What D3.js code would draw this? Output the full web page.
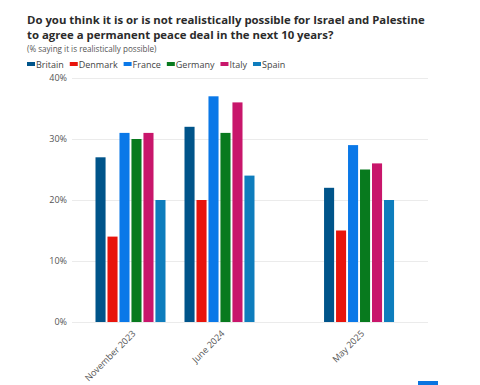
<!DOCTYPE html>
<html>
<head>
<meta charset="utf-8">
<title>Peace deal possible</title>
<script src="https://cdn.jsdelivr.net/npm/d3@7"></script>
<style>
body { margin: 0; background: #fff; font-family: "Open Sans", sans-serif; }
.title { font-size: 14px; font-weight: bold; fill: #2b2b2b; }
.sub { font-size: 8.1px; fill: #555; }
.leg { font-size: 9px; fill: #444; }
.axis text { font-size: 9px; fill: #555; font-family: "Open Sans", sans-serif; }
.axis path, .axis line { display: none; }
.grid line { stroke: #ebebeb; stroke-width: 1; }
</style>
</head>
<body>
<svg width="480" height="385"></svg>
<script>
var countries = ["Britain", "Denmark", "France", "Germany", "Italy", "Spain"];
var colours = ["#00548a", "#e8140c", "#0a78e8", "#087a1e", "#c8166b", "#0e7dbd"];
var waves = ["2023-11-01", "2024-06-01", "2025-05-01"];
var waveLabels = ["November 2023", "June 2024", "May 2025"];
var britain = [27, 32, 22];
var denmark = [14, 20, 15];
var france  = [31, 37, 29];
var germany = [30, 31, 25];
var italy   = [31, 36, 26];
var spain   = [20, 24, 20];
var yTicks = [0, 10, 20, 30, 40];

var series = [britain, denmark, france, germany, italy, spain];
var parseDate = d3.timeParse("%Y-%m-%d");
var svg = d3.select("svg");

// title block - size first line to the reference width (~398px)
var t1 = svg.append("text").attr("class", "title").attr("x", 27).attr("y", 24)
  .text("Do you think it is or is not realistically possible for Israel and Palestine");
var fs = 14 * 398 / t1.node().getComputedTextLength();
t1.style("font-size", fs + "px");
svg.append("text").attr("class", "title").attr("x", 27).attr("y", 39).style("font-size", fs + "px")
  .text("to agree a permanent peace deal in the next 10 years?");
svg.append("text").attr("class", "sub").attr("x", 27).attr("y", 52)
  .text("(% saying it is realistically possible)");

// legend
var lx = 27;
countries.forEach(function(c, i) {
  svg.append("rect").attr("x", lx).attr("y", 62).attr("width", 8).attr("height", 4).attr("fill", colours[i]);
  var t = svg.append("text").attr("class", "leg").attr("x", lx + 9).attr("y", 67.5).text(c);
  lx += 9 + t.node().getComputedTextLength() + 6;
});

var x = d3.scaleTime()
  .domain([parseDate("2023-06-14"), parseDate("2025-10-13")])
  .range([72, 428]);
var y = d3.scaleLinear().domain([0, 40]).range([322, 78]);
var inner = d3.scaleBand().domain(countries).range([-35, 35]).paddingInner(0.16);

svg.append("g").attr("class", "grid").selectAll("line").data(yTicks).enter().append("line")
  .attr("x1", 72).attr("x2", 428)
  .attr("y1", function(d) { return y(d) + 0.5; }).attr("y2", function(d) { return y(d) + 0.5; });

svg.append("g").attr("class", "axis").attr("transform", "translate(67,0)")
  .call(d3.axisLeft(y).tickValues(yTicks).tickSize(0).tickPadding(0).tickFormat(function(d) { return d + "%"; }));

// bars
var groups = svg.selectAll(".wave").data(waves).enter().append("g")
  .attr("class", "wave")
  .attr("transform", function(d) { return "translate(" + x(parseDate(d)) + ",0)"; });
groups.each(function(d, wi) {
  d3.select(this).selectAll("rect").data(countries).enter().append("rect")
    .attr("x", function(c) { return inner(c); })
    .attr("width", inner.bandwidth())
    .attr("y", function(c, ci) { return y(series[ci][wi]); })
    .attr("height", function(c, ci) { return y(0) - y(series[ci][wi]); })
    .attr("fill", function(c, ci) { return colours[ci]; });
});

// x labels
var xa = svg.append("g").attr("class", "axis").attr("transform", "translate(0,322)")
  .call(d3.axisBottom(x).tickValues(waves.map(parseDate)).tickSize(0).tickPadding(0)
    .tickFormat(function(d, i) { return waveLabels[i]; }));
xa.selectAll("text").attr("text-anchor", "end").attr("y", 0).attr("dy", "0.35em")
  .attr("transform", "translate(3,10) rotate(-45)");

svg.append("rect").attr("x", 418).attr("y", 381).attr("width", 20).attr("height", 4).attr("fill", "#0a74e0");
</script>
</body>
</html>
